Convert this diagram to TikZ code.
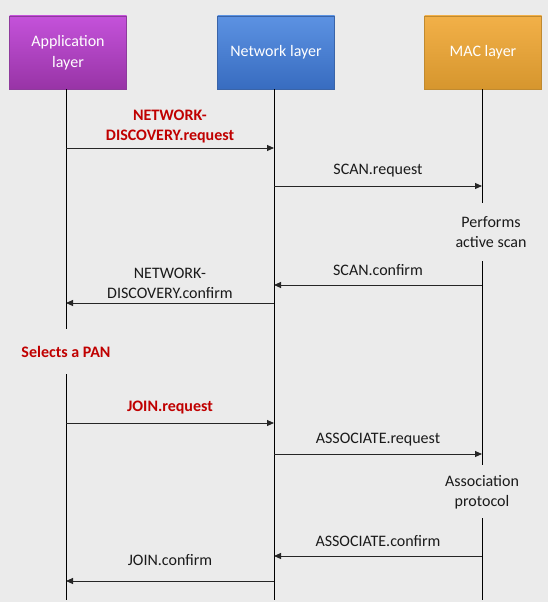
\documentclass[tikz,border=0pt]{standalone}
\usepackage{fontspec}
\setmainfont{Carlito}
\usetikzlibrary{arrows.meta}
\definecolor{bg}{HTML}{EBEBEB}
\definecolor{msgred}{HTML}{C00000}
\definecolor{txt}{HTML}{1A1A1A}
\definecolor{appedge}{HTML}{8E3A9C}
\definecolor{netedge}{HTML}{3A64A8}
\definecolor{macedge}{HTML}{C08A30}
\begin{document}
\begin{tikzpicture}[x=1pt,y=-1pt,
  layerbox/.style={minimum width=117pt,minimum height=73pt,draw=#1,line width=0.6pt,text=white,align=center,font=\fontsize{16}{21}\selectfont,inner sep=0pt},
  life/.style={line width=0.8pt,draw=black},
  msg/.style={line width=0.9pt,draw=black!85,-{Triangle[length=7pt,width=6pt]}},
  lbl/.style={align=center,text=txt,font=\fontsize{16}{20}\selectfont,inner sep=0pt},
  redlbl/.style={align=center,text=msgred,font=\bfseries\fontsize{16}{20}\selectfont,inner sep=0pt}]
\fill[bg] (0,0) rectangle (548,602);
\useasboundingbox (0,0) rectangle (548,602);
% boxes
\node[layerbox=appedge, top color={rgb,255:red,196;green,82;blue,218}, bottom color={rgb,255:red,152;green,52;blue,166}] (app) at (68,52.5) {Application\\layer};
\node[layerbox=netedge, top color={rgb,255:red,92;green,146;blue,226}, bottom color={rgb,255:red,56;green,108;blue,192}] (net) at (276,52.5) {Network layer};
\node[layerbox=macedge, top color={rgb,255:red,242;green,176;blue,72}, bottom color={rgb,255:red,214;green,150;blue,46}] (mac) at (483,52.5) {MAC layer};
% lifeline coordinates
\coordinate (appgap1) at (66,329);
\coordinate (appgap2) at (66,374);
\coordinate (append) at (66,600);
\coordinate (netend) at (274,600);
\coordinate (macgap1) at (482,203);
\coordinate (macgap2) at (482,261);
\coordinate (macgap3) at (482,465);
\coordinate (macgap4) at (482,518);
\coordinate (macend) at (482,600);
\draw[life] (app.south -| append) -- (appgap1);
\draw[life] (appgap2) -- (append);
\draw[life] (net.south -| netend) -- (netend);
\draw[life] (mac.south -| macend) -- (macgap1);
\draw[life] (macgap2) -- (macgap3);
\draw[life] (macgap4) -- (macend);
% message endpoints
\coordinate (a1) at (66,148); \coordinate (n1) at (274,148);
\coordinate (n2) at (274,186); \coordinate (m2) at (482,186);
\coordinate (m3) at (482,285); \coordinate (n3) at (274,285);
\coordinate (n4) at (274,303); \coordinate (a4) at (66,303);
\coordinate (a5) at (66,423); \coordinate (n5) at (274,423);
\coordinate (n6) at (274,454); \coordinate (m6) at (482,454);
\coordinate (m7) at (482,556); \coordinate (n7) at (274,556);
\coordinate (n8) at (274,581); \coordinate (a8) at (66,581);
\draw[msg] (a1) -- (n1);
\draw[msg] (n2) -- (m2);
\draw[msg] (m3) -- (n3);
\draw[msg] (n4) -- (a4);
\draw[msg] (a5) -- (n5);
\draw[msg] (n6) -- (m6);
\draw[msg] (m7) -- (n7);
\draw[msg] (n8) -- (a8);
% labels
\node[redlbl] (l1) at (170,127) {NETWORK-\\DISCOVERY.request};
\node[lbl] (l2) at (378,171) {SCAN.request};
\node[lbl] (l3) at (491,232) {Performs\\active scan};
\node[lbl] (l4) at (378,270) {SCAN.confirm};
\node[lbl] (l5) at (170,283) {NETWORK-\\DISCOVERY.confirm};
\node[redlbl] (l6) at (66,352) {Selects a PAN};
\node[redlbl] (l7) at (170,408) {JOIN.request};
\node[lbl] (l8) at (378,440) {ASSOCIATE.request};
\node[lbl] (l9) at (482,492) {Association\\protocol};
\node[lbl] (l10) at (378,541) {ASSOCIATE.confirm};
\node[lbl] (l11) at (170,560) {JOIN.confirm};
\end{tikzpicture}
\end{document}
